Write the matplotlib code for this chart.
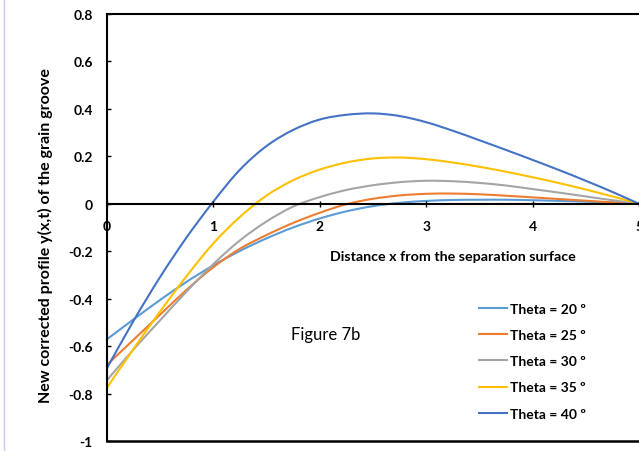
import numpy as np
import matplotlib
matplotlib.use("Agg")
import matplotlib.pyplot as plt
from matplotlib.lines import Line2D
from matplotlib.path import Path
from matplotlib.patches import PathPatch

# values, x = 0 .. 5 step 0.25
x_vals = [0, 0.25, 0.5, 0.75, 1.0, 1.25, 1.5, 1.75, 2.0, 2.25, 2.5,
          2.75, 3.0, 3.25, 3.5, 3.75, 4.0, 4.25, 4.5, 4.75, 5.0]

theta20 = [-0.572, -0.488, -0.406, -0.329, -0.26, -0.199, -0.146, -0.100, -0.062, -0.032,
           -0.010, 0.004, 0.012, 0.016, 0.017, 0.017, 0.015, 0.012, 0.009, 0.005, 0.0]
theta25 = [-0.68, -0.574, -0.468, -0.363, -0.268, -0.19, -0.132, -0.081, -0.038, -0.002,
           0.021, 0.035, 0.042, 0.043, 0.040, 0.034, 0.027, 0.020, 0.013, 0.006, 0.0]
theta30 = [-0.745, -0.615, -0.492, -0.37, -0.255, -0.155, -0.075, -0.012, 0.028, 0.058,
           0.078, 0.091, 0.097, 0.095, 0.088, 0.077, 0.062, 0.047, 0.031, 0.015, 0.0]
theta35 = [-0.777, -0.613, -0.455, -0.305, -0.168, -0.056, 0.034, 0.099, 0.144, 0.174,
           0.191, 0.195, 0.188, 0.174, 0.156, 0.135, 0.112, 0.087, 0.060, 0.031, 0.0]
theta40 = [-0.695, -0.495, -0.31, -0.142, 0.008, 0.143, 0.243, 0.311, 0.355, 0.375,
           0.381, 0.370, 0.344, 0.308, 0.268, 0.227, 0.185, 0.142, 0.097, 0.050, 0.0]

series = [theta20, theta25, theta30, theta35, theta40]
labels = ["Theta = 20 º", "Theta = 25 º", "Theta = 30 º", "Theta = 35 º", "Theta = 40 º"]
colors = ["#5B9BD5", "#ED7D31", "#A5A5A5", "#FFC000", "#4472C4"]

x_ticks = [0, 1, 2, 3, 4, 5]
y_ticks = [-1, -0.8, -0.6, -0.4, -0.2, 0, 0.2, 0.4, 0.6, 0.8]
y_ticklabels = ["-1", "-0.8", "-0.6", "-0.4", "-0.2", "0", "0.2", "0.4", "0.6", "0.8"]


def smooth_path(xs, ys):
    # excel style "smoothed line": catmull-rom through the points as bezier segments
    p = np.column_stack([xs, ys]).astype(float)
    p = np.vstack([p[0], p, p[-1]])
    verts = [p[1]]
    codes = [Path.MOVETO]
    for i in range(1, len(p) - 2):
        c1 = p[i] + (p[i + 1] - p[i - 1]) / 6
        c2 = p[i + 1] - (p[i + 2] - p[i]) / 6
        verts += [c1, c2, p[i + 1]]
        codes += [Path.CURVE4] * 3
    return Path(verts, codes)


plt.rcParams['font.family'] = ['Lato', 'DejaVu Sans']

fig = plt.figure(figsize=(6.39, 4.52), dpi=100)
ax = fig.add_axes([106.7 / 639, 1 - 442 / 452, 1 - 106.7 / 639, (442 - 15) / 452])

handles = []
for ys, lab, c in zip(series, labels, colors):
    ax.add_patch(PathPatch(smooth_path(x_vals, ys), fill=False, edgecolor=c,
                           lw=1.5, capstyle='round'))
    handles.append(Line2D([], [], color=c, lw=1.5, label=lab))

ax.set_xlim(0, 5)
ax.set_ylim(-1, 0.8)

# x axis sits on y=0, frame line kept at y=-1
ax.spines['bottom'].set_position(('data', 0))
ax.spines['right'].set_visible(False)
for s in ['left', 'top', 'bottom']:
    ax.spines[s].set_linewidth(1.5)
ax.axhline(-1, color='black', lw=1.8, clip_on=False)

ax.set_xticks(x_ticks)
ax.set_xticklabels([str(t) for t in x_ticks], fontweight='bold', fontsize=10)
ax.set_yticks(y_ticks)
ax.set_yticklabels(y_ticklabels, fontweight='bold', fontsize=10)
ax.tick_params(axis='x', direction='inout', length=5, width=1, pad=9)
ax.tick_params(axis='y', direction='in', length=3, width=1, pad=10)

fig.text(453 / 639, 1 - 257 / 452, "Distance x from the separation surface",
         ha='center', va='center', fontsize=10.3, fontweight='bold')
fig.text(45 / 639, 1 - 236 / 452, "New corrected profile y(x,t) of the grain groove",
         ha='center', va='center', rotation=90, fontsize=11.5, fontweight='bold')
ax.text(326 / 639, 1 - 335 / 452, "Figure 7b", transform=fig.transFigure,
        ha='center', va='center', fontsize=12)

leg = ax.legend(handles=handles, loc='upper left', bbox_to_anchor=(472 / 639, 1 - 297 / 452),
                bbox_transform=fig.transFigure, frameon=False, borderpad=0,
                handlelength=2.0, handletextpad=0.25, labelspacing=1.02,
                prop={'weight': 'bold', 'size': 10})

# pale border on the left of the picture
fig.add_artist(Line2D([4 / 639, 4 / 639], [0, 1], transform=fig.transFigure,
                      color='#c8c8f0', lw=1))

fig.savefig("out.png", dpi=100)
